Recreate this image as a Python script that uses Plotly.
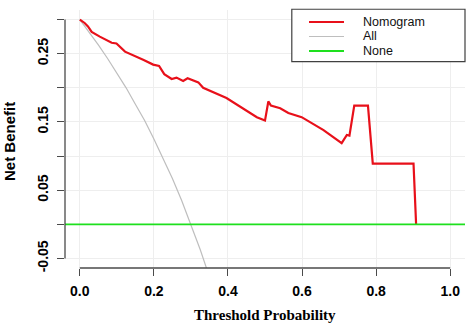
import plotly.graph_objects as go

# ---------------- data ----------------
threshold_nomogram = [0.0, 0.013, 0.022, 0.032, 0.054, 0.086, 0.099, 0.122, 0.171, 0.198,
                      0.214, 0.228, 0.248, 0.261, 0.279, 0.291, 0.320, 0.333, 0.396, 0.432,
                      0.478, 0.500, 0.509, 0.516, 0.541, 0.563, 0.599, 0.658, 0.707, 0.721,
                      0.728, 0.741, 0.778, 0.791, 0.901, 0.908]
net_benefit_nomogram = [0.300, 0.295, 0.290, 0.282, 0.275, 0.266, 0.265, 0.253, 0.241, 0.234,
                        0.232, 0.220, 0.213, 0.215, 0.210, 0.214, 0.208, 0.200, 0.185, 0.173,
                        0.157, 0.152, 0.180, 0.174, 0.170, 0.163, 0.157, 0.138, 0.119, 0.131,
                        0.130, 0.174, 0.174, 0.089, 0.089, 0.000]

threshold_all = [0.0, 0.025, 0.05, 0.075, 0.10, 0.125, 0.15, 0.175, 0.20, 0.225,
                 0.25, 0.275, 0.30, 0.325, 0.35, 0.375]
net_benefit_all = [0.300, 0.282, 0.263, 0.243, 0.222, 0.200, 0.176, 0.152, 0.125, 0.097,
                   0.067, 0.035, 0.000, -0.037, -0.077, -0.120]

threshold_none = [-0.04, 1.04]
net_benefit_none = [0.0, 0.0]

x_tick_values = [0.0, 0.2, 0.4, 0.6, 0.8, 1.0]
x_tick_labels = ["0.0", "0.2", "0.4", "0.6", "0.8", "1.0"]
y_tick_values = [-0.05, 0.0, 0.05, 0.10, 0.15, 0.20, 0.25, 0.30]
y_tick_labels = ["-0.05", "", "0.05", "", "0.15", "", "0.25", ""]

legend_names = ["Nomogram", "All", "None"]
series_colors = ["#E8101A", "#BEBEBE", "#1EE01E"]

# ---------------- figure ----------------
AXIS_COL = "#4a4a4a"
GRID_COL = "#EEEEEE"

fig = go.Figure()
fig.add_trace(go.Scatter(x=threshold_all, y=net_benefit_all, mode="lines",
                         line=dict(color=series_colors[1], width=1.2), name=legend_names[1],
                         showlegend=False))
fig.add_trace(go.Scatter(x=threshold_nomogram, y=net_benefit_nomogram, mode="lines",
                         line=dict(color=series_colors[0], width=2.2), name=legend_names[0],
                         showlegend=False))
fig.add_trace(go.Scatter(x=threshold_none, y=net_benefit_none, mode="lines",
                         line=dict(color=series_colors[2], width=1.8), name=legend_names[2],
                         showlegend=False))

tick_font = dict(family="Liberation Sans, Arial", size=14, color="black")

fig.update_xaxes(range=[-0.04, 1.04], tickmode="array", tickvals=x_tick_values,
                 ticktext=["<b>%s</b>" % t for t in x_tick_labels],
                 showgrid=True, gridcolor=GRID_COL, gridwidth=1, zeroline=False,
                 showline=False, ticks="outside", ticklen=7, tickcolor=AXIS_COL,
                 tickwidth=1, tickfont=tick_font, ticklabelstandoff=3)
fig.update_yaxes(range=[-0.064, 0.314], tickmode="array", tickvals=y_tick_values,
                 ticktext=["<b>%s</b>" % t for t in y_tick_labels],
                 showgrid=True, gridcolor=GRID_COL, gridwidth=1, zeroline=False,
                 showline=False, ticks="outside", ticklen=7, tickcolor=AXIS_COL,
                 tickwidth=1, tickfont=tick_font, tickangle=-90, ticklabelstandoff=3)

shapes = [
    # R-style axis lines spanning the tick range only
    dict(type="line", xref="paper", yref="y", x0=0, x1=0,
         y0=y_tick_values[0], y1=y_tick_values[-1], line=dict(color=AXIS_COL, width=1.3)),
    dict(type="line", xref="x", yref="paper", y0=0, y1=0,
         x0=x_tick_values[0], x1=x_tick_values[-1], line=dict(color=AXIS_COL, width=1.3)),
    # legend box
    dict(type="rect", xref="paper", yref="paper", x0=0.567, x1=1.0, y0=0.800, y1=1.003,
         line=dict(color="#404040", width=1.2), fillcolor="white", layer="above"),
]
annotations = []
row_y = [0.9535, 0.8973, 0.841]
for name, col, yy, w in zip(legend_names, series_colors, row_y, [2.2, 1.2, 1.8]):
    shapes.append(dict(type="line", xref="paper", yref="paper", x0=0.61, x1=0.6975,
                       y0=yy, y1=yy, line=dict(color=col, width=w), layer="above"))
    annotations.append(dict(xref="paper", yref="paper", x=0.7418, y=yy, text=name,
                            showarrow=False, xanchor="left", yanchor="middle", borderpad=0,
                            font=dict(family="Liberation Sans, Arial", size=12.5, color="#111111")))

annotations.append(dict(xref="paper", yref="paper", x=0.5, y=-0.182,
                        text="<b>Threshold Probability</b>", showarrow=False,
                        xanchor="center", yanchor="middle",
                        font=dict(family="Liberation Serif, Times New Roman", size=15, color="black")))
annotations.append(dict(xref="paper", yref="paper", x=-0.139, y=0.49,
                        text="<b>Net Benefit</b>", showarrow=False, textangle=-90,
                        xanchor="center", yanchor="middle",
                        font=dict(family="Liberation Sans, Arial", size=15, color="black")))

fig.update_layout(width=472, height=331, autosize=False,
                  margin=dict(l=65, r=7, t=10, b=63, pad=0),
                  paper_bgcolor="white", plot_bgcolor="white",
                  shapes=shapes, annotations=annotations, showlegend=False)

fig.write_html("out.html", config={"displayModeBar": False},
               post_script="document.body.style.margin='0';document.body.style.overflow='hidden';")
